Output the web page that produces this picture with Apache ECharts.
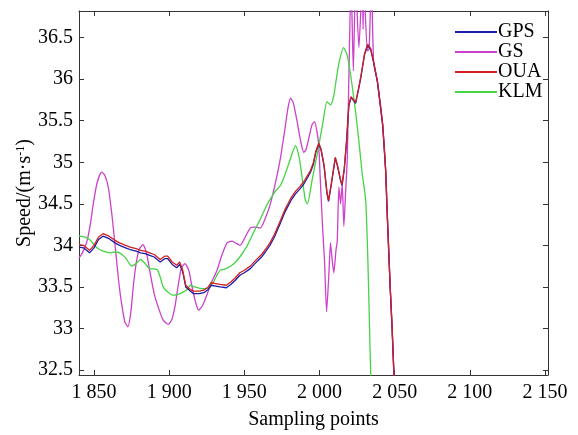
<!DOCTYPE html>
<html><head><meta charset="utf-8">
<script src="https://cdn.jsdelivr.net/npm/echarts@6/dist/echarts.min.js"></script>
<style>html,body{margin:0;padding:0;background:#fff}#c{width:578px;height:435px}</style>
</head><body><div id="c"></div>
<script>
const seriesNames = ['GPS', 'GS', 'OUA', 'KLM'];
const xTicks = [1850, 1900, 1950, 2000, 2050, 2100, 2150];
const yTicks = [32.5, 33, 33.5, 34, 34.5, 35, 35.5, 36, 36.5];

const gpsData = [[1840,33.98],[1843,33.97],[1847,33.91],[1850,33.97],[1853,34.07],[1856,34.11],[1860,34.08],[1864,34.03],[1867,34.00],[1871,33.97],[1874,33.95],[1878,33.93],[1881,33.91],[1884,33.90],[1887,33.88],[1890,33.86],[1894,33.80],[1897,33.84],[1899,33.84],[1902,33.77],[1905,33.73],[1907,33.77],[1909,33.68],[1911,33.50],[1914,33.45],[1916,33.42],[1920,33.42],[1923,33.43],[1926,33.47],[1928,33.52],[1931,33.51],[1934,33.50],[1938,33.49],[1941,33.53],[1944,33.58],[1947,33.64],[1950,33.67],[1954,33.72],[1957,33.78],[1961,33.85],[1964,33.92],[1967,34.00],[1970,34.10],[1974,34.27],[1977,34.40],[1981,34.54],[1984,34.62],[1987,34.68],[1990,34.75],[1994,34.88],[1996,34.98],[1997.5,35.12],[1999.5,35.22],[2001,35.15],[2003,34.96],[2005,34.62],[2006,34.53],[2008,34.75],[2010.5,35.05],[2012,34.95],[2014,34.78],[2015,34.72],[2016.5,34.92],[2018,35.25],[2019.5,35.68],[2021,35.78],[2022,35.76],[2024,35.71],[2026,35.88],[2027.5,36.02],[2030,36.30],[2032,36.40],[2034,36.36],[2036,36.20],[2038.5,35.97],[2042,35.45],[2044,34.90],[2045,34.40],[2047,33.50],[2048.3,33.00],[2049.5,32.45],[2050,32.30]];

const gsData = [[1840,33.85],[1842,33.90],[1845,34.03],[1847.5,34.25],[1849.5,34.50],[1852,34.75],[1855,34.88],[1857,34.85],[1859.5,34.70],[1862,34.35],[1864,34.00],[1866.5,33.55],[1868.5,33.28],[1870.5,33.08],[1872.5,33.02],[1874.5,33.20],[1876.2,33.52],[1878,33.78],[1880,33.95],[1882.5,34.01],[1885,33.90],[1887.3,33.67],[1890,33.42],[1893,33.24],[1896,33.10],[1899.5,33.05],[1902,33.12],[1904,33.28],[1906,33.52],[1908,33.72],[1910.5,33.78],[1913,33.70],[1915,33.52],[1917.5,33.32],[1919.5,33.22],[1922,33.27],[1925,33.40],[1928,33.55],[1931.8,33.70],[1935,33.88],[1938.5,34.03],[1941.8,34.05],[1945,34.02],[1947.3,34.00],[1950,34.08],[1954,34.21],[1957,34.22],[1960.7,34.21],[1964,34.33],[1967.3,34.50],[1971,34.78],[1974,35.05],[1977,35.40],[1979,35.65],[1980.7,35.77],[1982.5,35.72],[1985,35.50],[1987.5,35.25],[1989.5,35.12],[1991,35.15],[1993,35.30],[1995,35.45],[1996.7,35.49],[1998.5,35.35],[1999.5,35.20],[2000.5,34.80],[2002,34.23],[2003.3,33.83],[2004.7,33.20],[2006.2,33.64],[2007.3,34.03],[2008.3,33.85],[2009.5,33.67],[2011,33.95],[2011.8,34.05],[2012.9,34.70],[2014,34.50],[2015.1,34.74],[2016.2,34.23],[2017.3,34.62],[2018.5,35.06],[2019.5,36.00],[2021,37.20],[2022.5,36.10],[2024,37.20],[2026.2,36.38],[2028.5,37.20],[2029,36.60],[2029.5,37.20],[2031.8,36.34],[2033,36.36],[2034.5,37.20],[2036,36.20],[2038.5,35.97],[2042,35.45],[2044,34.90],[2045,34.40],[2047,33.50],[2048.3,33.00],[2049.5,32.45],[2050,32.30]];

const ouaData = [[1840,34.01],[1843,34.00],[1847,33.94],[1850,34.00],[1853,34.10],[1856,34.14],[1860,34.11],[1864,34.06],[1867,34.03],[1871,34.00],[1874,33.98],[1878,33.96],[1881,33.94],[1884,33.93],[1887,33.91],[1890,33.89],[1894,33.83],[1897,33.87],[1899,33.87],[1902,33.80],[1905,33.76],[1907,33.80],[1909,33.70],[1911,33.52],[1914,33.47],[1916,33.45],[1920,33.45],[1923,33.46],[1926,33.50],[1928,33.55],[1931,33.54],[1934,33.53],[1938,33.52],[1941,33.56],[1944,33.61],[1947,33.67],[1950,33.70],[1954,33.75],[1957,33.81],[1961,33.88],[1964,33.95],[1967,34.03],[1970,34.13],[1974,34.30],[1977,34.43],[1981,34.57],[1984,34.65],[1987,34.71],[1990,34.78],[1994,34.90],[1996,35.00],[1997.5,35.13],[1999.5,35.23],[2001,35.16],[2003,34.97],[2005,34.63],[2006,34.54],[2008,34.76],[2010.5,35.06],[2012,34.96],[2014,34.79],[2015,34.73],[2016.5,34.93],[2018,35.26],[2019.5,35.69],[2021,35.79],[2022,35.77],[2024,35.72],[2026,35.89],[2027.5,36.03],[2030,36.31],[2032,36.42],[2034,36.37],[2036,36.21],[2038.5,35.98],[2042,35.46],[2044,34.91],[2045,34.41],[2047,33.51],[2048.3,33.01],[2049.5,32.46],[2050,32.30]];

const klmData = [[1840,34.11],[1844,34.10],[1847,34.07],[1850,34.01],[1852,33.97],[1856,33.93],[1861,33.91],[1864,33.92],[1867,33.91],[1871,33.85],[1875,33.75],[1878,33.78],[1881,33.83],[1884,33.78],[1887,33.72],[1892,33.71],[1894,33.62],[1896,33.50],[1899,33.44],[1903,33.40],[1906,33.41],[1909.5,33.44],[1912,33.47],[1914,33.52],[1917,33.50],[1921,33.48],[1925,33.48],[1929.5,33.56],[1932,33.65],[1934,33.70],[1938,33.72],[1943,33.78],[1947,33.86],[1952,34.00],[1956,34.15],[1961,34.33],[1964,34.45],[1967,34.55],[1971,34.66],[1974,34.72],[1977,34.85],[1981,35.06],[1984,35.20],[1986,35.10],[1987.5,34.94],[1990.5,34.55],[1992,34.50],[1995,34.78],[1998.5,35.10],[2002,35.45],[2005,35.73],[2007.3,35.69],[2009.5,35.80],[2011,35.98],[2013,36.20],[2016,36.38],[2018.5,36.28],[2020.7,36.05],[2024,35.61],[2026.5,35.20],[2028.5,34.85],[2030.7,34.55],[2032.2,33.80],[2033.5,32.85],[2034.3,32.30]];

const colors = ['#1c1ca8', '#cc40cc', '#d42020', '#44d444'];
const FONT = '"Liberation Serif", "Times New Roman", serif';
const allData = [gpsData, gsData, ouaData, klmData];

const chart = echarts.init(document.getElementById('c'), null, {renderer: 'canvas'});
const axisLineStyle = {color: '#333', width: 1};
const fmtX = v => { const s = String(Math.round(v)); return s.length === 4 ? s[0] + ' ' + s.slice(1) : s; };

chart.setOption({
  animation: false,
  backgroundColor: '#fff',
  grid: {left: 79, right: 30, top: 11, bottom: 54},
  legend: {
    orient: 'vertical', left: 450, top: 17, icon: 'rect', itemWidth: 42, itemHeight: 2, itemGap: 0,
    data: seriesNames,
    textStyle: {fontFamily: FONT, fontSize: 20, color: '#000', lineHeight: 20, padding: [0, 0, 0, -4]}
  },
  xAxis: [{
    type: 'value', min: 1840, max: 2152, position: 'bottom',
    name: 'Sampling points', nameLocation: 'middle', nameGap: 35, nameMoveOverlap: false,
    nameTextStyle: {fontFamily: FONT, fontSize: 20, color: '#000'},
    axisLine: {onZero: false, lineStyle: axisLineStyle},
    axisTick: {inside: true, length: 5, customValues: xTicks, lineStyle: axisLineStyle},
    axisLabel: {customValues: xTicks, formatter: fmtX, fontFamily: FONT, fontSize: 20, color: '#000', margin: 8},
    splitLine: {show: false}
  }, {
    type: 'value', min: 1840, max: 2152, position: 'top',
    axisLine: {onZero: false, lineStyle: axisLineStyle},
    axisTick: {inside: true, length: 5, customValues: xTicks, lineStyle: axisLineStyle},
    axisLabel: {show: false}, splitLine: {show: false}
  }],
  yAxis: [{
    type: 'value', min: 32.44, max: 36.82, position: 'left',
    name: 'Speed/(m·s{sup|-1})', nameLocation: 'middle', nameGap: 44, nameMoveOverlap: false,
    nameTextStyle: {fontFamily: FONT, fontSize: 20, color: '#000',
      rich: {sup: {fontFamily: FONT, fontSize: 12, color: '#000', verticalAlign: 'top', lineHeight: 20}}},
    axisLine: {onZero: false, lineStyle: axisLineStyle},
    axisTick: {inside: true, length: 5, customValues: yTicks, lineStyle: axisLineStyle},
    axisLabel: {customValues: yTicks, formatter: v => String(+v.toFixed(1)), fontFamily: FONT, fontSize: 20, color: '#000', margin: 6},
    splitLine: {show: false}
  }, {
    type: 'value', min: 32.44, max: 36.82, position: 'right',
    axisLine: {onZero: false, lineStyle: axisLineStyle},
    axisTick: {inside: true, length: 5, customValues: yTicks, lineStyle: axisLineStyle},
    axisLabel: {show: false}, splitLine: {show: false}
  }],
  series: seriesNames.map((n, i) => ({
    name: n, type: 'line', xAxisIndex: 0, yAxisIndex: 0,
    data: allData[i], showSymbol: false, symbol: 'none', clip: true,
    smooth: (n === 'GS' || n === 'KLM') ? 0.2 : false,
    color: colors[i],
    lineStyle: {color: colors[i], width: 1.3},
    z: n === 'OUA' ? 4 : (n === 'GPS' ? 3 : 2)
  }))
});
</script></body></html>
